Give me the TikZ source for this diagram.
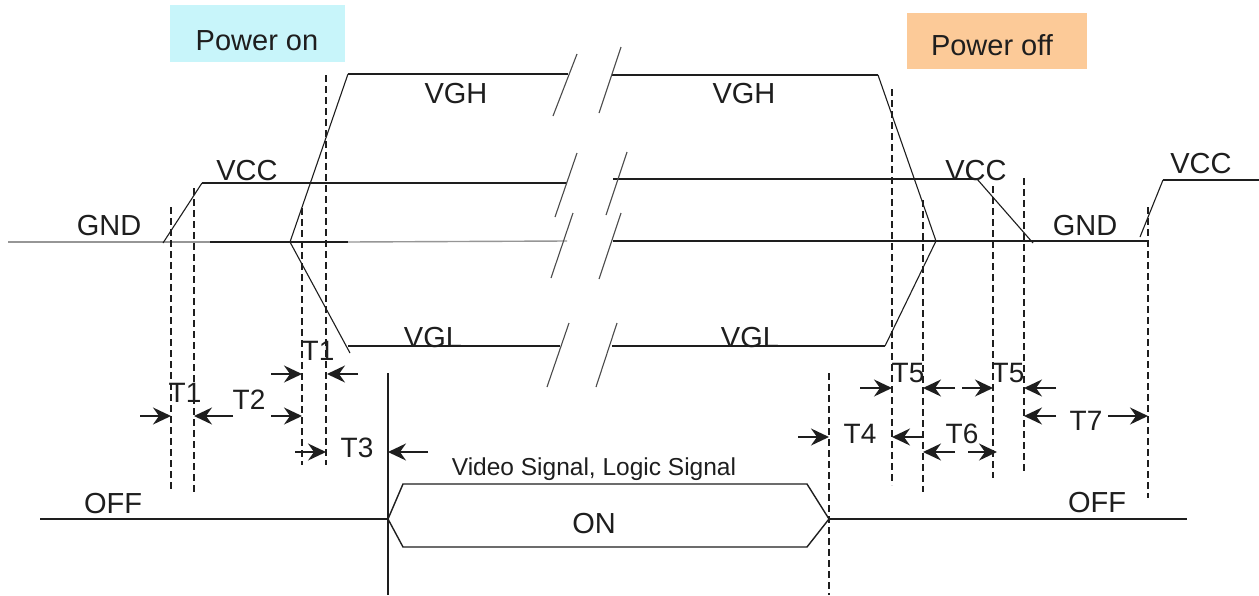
\documentclass[tikz,border=0pt]{standalone}
\usepackage{fontspec}
\setmainfont{Liberation Sans}
\usetikzlibrary{arrows.meta}
\definecolor{oncol}{RGB}{200,245,250}
\definecolor{offcol}{RGB}{252,202,152}
\definecolor{ink}{RGB}{30,30,30}
\definecolor{gline}{RGB}{150,150,150}
\begin{document}
\begin{tikzpicture}[x=1pt,y=-1pt,
  sig/.style={line width=1.4pt, draw=ink},
  gsig/.style={line width=1.4pt, draw=gline},
  ramp/.style={line width=1.1pt, draw=ink},
  brk/.style={line width=1.1pt, draw=ink!80},
  guide/.style={line width=1.1pt, draw=ink, dash pattern=on 7pt off 4pt},
  tarr/.style={-{Stealth[length=18pt,width=17pt,inset=6pt]}, line width=1.5pt, draw=ink},
  lab/.style={font=\fontsize{29}{31}\selectfont, text=ink, inner sep=0pt, anchor=base},
  tlab/.style={lab, font=\fontsize{28}{30}\selectfont},
  vlab/.style={lab, font=\fontsize{24.5}{28}\selectfont}]
\useasboundingbox (0,0) rectangle (1259,595);
\fill[white] (0,0) rectangle (1259,595);

% ---------- title boxes ----------
\fill[oncol] (170,5) rectangle (345,62);
\node[lab] (pon) at (257,50) {Power on};
\fill[offcol] (907,13) rectangle (1087,69);
\node[lab] (poff) at (992,55) {Power off};

% ---------- coordinates ----------
\coordinate (g0) at (8,242);
\coordinate (g1) at (210,242);
\coordinate (g2) at (348,242);
\coordinate (g3) at (567,241);
\coordinate (vr0) at (163,243);
\coordinate (vr1) at (202,183);
\coordinate (vc1) at (567,183);
\coordinate (hp) at (290,242);
\coordinate (vh1) at (348,74);
\coordinate (vh2) at (568,74);
\coordinate (vl0) at (350,353);
\coordinate (vl1) at (348,346);
\coordinate (vl2) at (560,346);
\coordinate (vh3) at (612,75);
\coordinate (vh4) at (878,75);
\coordinate (hp2) at (936,241);
\coordinate (vl4) at (885,346);
\coordinate (vl3) at (612,346);
\coordinate (vc3) at (613,179);
\coordinate (vc4) at (977,179);
\coordinate (vc5) at (1033,243);
\coordinate (g4) at (613,241);
\coordinate (g5) at (1147,241);
\coordinate (vr2) at (1140,237);
\coordinate (vr3) at (1163,180);
\coordinate (vr4) at (1259,180);

% ---------- supply traces ----------
\draw[gsig] (g0) -- (g1);
\draw[sig] (g1) -- (g2);
\draw[gsig] (g2) -- (g3);
\draw[ramp] (vr0) -- (vr1);
\draw[sig] (vr1) -- (vc1);
\draw[ramp] (vh1) -- (hp) -- (vl0);
\draw[sig] (vh1) -- (vh2);
\draw[sig] (vl1) -- (vl2);

\draw[sig] (vh3) -- (vh4);
\draw[ramp] (vh4) -- (hp2) -- (vl4);
\draw[sig] (vl3) -- (vl4);
\draw[sig] (vc3) -- (vc4);
\draw[ramp] (vc4) -- (vc5);
\draw[sig] (g4) -- (g5);
\draw[ramp] (vr2) -- (vr3);
\draw[sig] (vr3) -- (vr4);

% ---------- break marks ----------
\coordinate (b1a) at (553,116); \coordinate (b1b) at (577,54);
\coordinate (b2a) at (599,113); \coordinate (b2b) at (621,47);
\coordinate (b3a) at (555,217); \coordinate (b3b) at (577,153);
\coordinate (b4a) at (606,215); \coordinate (b4b) at (627,152);
\coordinate (b5a) at (551,278); \coordinate (b5b) at (573,213);
\coordinate (b6a) at (599,279); \coordinate (b6b) at (621,213);
\coordinate (b7a) at (547,387); \coordinate (b7b) at (569,323);
\coordinate (b8a) at (596,387); \coordinate (b8b) at (617,323);
\foreach \n in {1,...,8} {\draw[brk] (b\n a) -- (b\n b);}

% ---------- supply labels ----------
\node[lab] (lvgh1) at (456,103) {VGH};
\node[lab] (lvgh2) at (744,103) {VGH};
\node[lab] (lvgl1) at (433,347) {VGL};
\node[lab] (lvgl2) at (750,347) {VGL};
\node[lab] (lvcc1) at (247,180) {VCC};
\node[lab] (lvcc2) at (976,180) {VCC};
\node[lab] (lvcc3) at (1201,173) {VCC};
\node[lab] (lgnd1) at (109,235) {GND};
\node[lab] (lgnd2) at (1085,235) {GND};

% ---------- guide lines ----------
\coordinate (d1t) at (171,207); \coordinate (d1b) at (171,492);
\coordinate (d2t) at (194,188); \coordinate (d2b) at (194,492);
\coordinate (d3t) at (302,208); \coordinate (d3b) at (302,465);
\coordinate (d4t) at (326,75);  \coordinate (d4b) at (326,465);
\coordinate (d5t) at (829,373); \coordinate (d5b) at (829,595);
\coordinate (d6t) at (892,89);  \coordinate (d6b) at (892,485);
\coordinate (d7t) at (923,200); \coordinate (d7b) at (923,492);
\coordinate (d8t) at (993,186); \coordinate (d8b) at (993,478);
\coordinate (d9t) at (1024,178); \coordinate (d9b) at (1024,472);
\coordinate (d10t) at (1148,207); \coordinate (d10b) at (1148,498);
\foreach \n in {1,...,10} {\draw[guide] (d\n t) -- (d\n b);}
\coordinate (sVt) at (388,373); \coordinate (sVb) at (388,595);
\draw[sig] (sVt) -- (sVb);

% ---------- timing arrows ----------
\coordinate (a1s) at (140,416); \coordinate (a1e) at (171,416);
\coordinate (a2s) at (233,416); \coordinate (a2e) at (194,416);
\coordinate (a3s) at (271,416); \coordinate (a3e) at (302,416);
\coordinate (a4s) at (271,374); \coordinate (a4e) at (302,374);
\coordinate (a5s) at (358,374); \coordinate (a5e) at (327,374);
\coordinate (a6s) at (295,452); \coordinate (a6e) at (326,452);
\coordinate (a7s) at (428,452); \coordinate (a7e) at (388,452);
\coordinate (a8s) at (798,437); \coordinate (a8e) at (829,437);
\coordinate (a9s) at (923,437); \coordinate (a9e) at (892,437);
\coordinate (a10s) at (860,388); \coordinate (a10e) at (892,388);
\coordinate (a11s) at (955,388); \coordinate (a11e) at (923,388);
\coordinate (a12s) at (962,388); \coordinate (a12e) at (993,388);
\coordinate (a13s) at (1056,388); \coordinate (a13e) at (1024,388);
\coordinate (a14s) at (955,452); \coordinate (a14e) at (923,452);
\coordinate (a15s) at (968,452); \coordinate (a15e) at (997,452);
\coordinate (a16s) at (1056,416); \coordinate (a16e) at (1024,416);
\coordinate (a17s) at (1108,416); \coordinate (a17e) at (1148,416);
\foreach \n in {1,...,17} {\draw[tarr] (a\n s) -- (a\n e);}

\node[tlab] (t1a) at (185,402) {T1};
\node[tlab] (t2) at (249,409) {T2};
\node[tlab] (t1b) at (318,360) {T1};
\node[tlab] (t3) at (357,457) {T3};
\node[tlab] (t4) at (860,443) {T4};
\node[tlab] (t5a) at (908,382) {T5};
\node[tlab] (t5b) at (1008,382) {T5};
\node[tlab] (t6) at (962,443) {T6};
\node[tlab] (t7) at (1086,430) {T7};

% ---------- logic signal ----------
\coordinate (o0) at (40,519);
\coordinate (hl) at (388,519);
\coordinate (htl) at (403,484);
\coordinate (htr) at (807,484);
\coordinate (hr) at (829,519);
\coordinate (hbr) at (807,547);
\coordinate (hbl) at (403,547);
\coordinate (o1) at (1187,519);
\draw[sig] (o0) -- (hl);
\draw[sig, line join=miter] (hl) -- (htl) -- (htr) -- (hr) -- (hbr) -- (hbl) -- cycle;
\draw[sig] (hr) -- (o1);
\node[lab] (on) at (594,533) {ON};
\node[vlab] (vsig) at (594,475) {Video Signal, Logic Signal};
\node[lab] (off1) at (113,513) {OFF};
\node[lab] (off2) at (1097,512) {OFF};
\end{tikzpicture}
\end{document}
